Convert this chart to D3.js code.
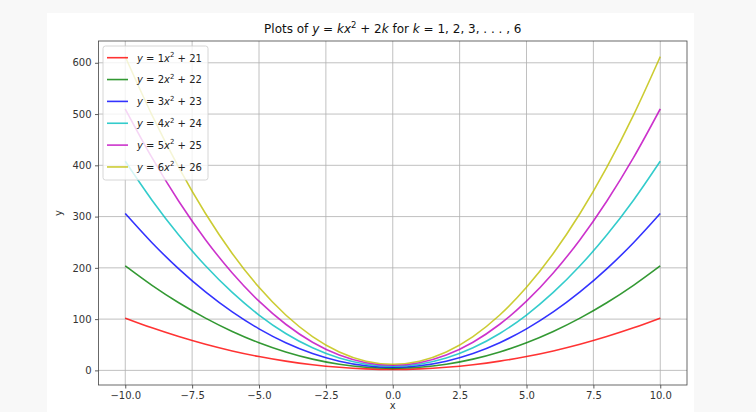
<!DOCTYPE html>
<html><head><meta charset="utf-8">
<script src="https://cdn.jsdelivr.net/npm/d3@7"></script>
<style>
body{margin:0;background:#f8f8f8;}
svg{display:block;font-family:"DejaVu Sans",sans-serif;}
</style>
</head><body>
<svg id="chart" width="756" height="412"></svg>
<script>
// ---- data ----
const xValues = [-10,-9,-8,-7,-6,-5,-4,-3,-2,-1,0,1,2,3,4,5,6,7,8,9,10];
const yK1 = [102,83,66,51,38,27,18,11,6,3,2,3,6,11,18,27,38,51,66,83,102];
const yK2 = [204,166,132,102,76,54,36,22,12,6,4,6,12,22,36,54,76,102,132,166,204];
const yK3 = [306,249,198,153,114,81,54,33,18,9,6,9,18,33,54,81,114,153,198,249,306];
const yK4 = [408,332,264,204,152,108,72,44,24,12,8,12,24,44,72,108,152,204,264,332,408];
const yK5 = [510,415,330,255,190,135,90,55,30,15,10,15,30,55,90,135,190,255,330,415,510];
const yK6 = [612,498,396,306,228,162,108,66,36,18,12,18,36,66,108,162,228,306,396,498,612];
const kLabels = ["1","2","3","4","5","6"];
const constLabels = ["21","22","23","24","25","26"];
const seriesColors = ["rgb(255,0,0)","rgb(0,128,0)","rgb(0,0,255)","rgb(0,191,191)","rgb(191,0,191)","rgb(191,191,0)"];
const xTicks = [-10,-7.5,-5,-2.5,0,2.5,5,7.5,10];
const yTicks = [0,100,200,300,400,500,600];
const xDomain = [-11, 11];
const yDomain = [-28.5, 642.5];

const seriesY = [yK1,yK2,yK3,yK4,yK5,yK6];

// ---- layout ----
const svg = d3.select("#chart");
const L = 98.5, R = 687, T = 41, B = 385;

svg.append("rect").attr("x",47).attr("y",13).attr("width",647).attr("height",399).attr("fill","#ffffff");

const x = d3.scaleLinear().domain(xDomain).range([L,R]);
const y = d3.scaleLinear().domain(yDomain).range([B,T]);

// grid
const grid = svg.append("g");
xTicks.forEach(t=>{
  grid.append("line").attr("x1",x(t)).attr("x2",x(t)).attr("y1",T).attr("y2",B)
    .attr("stroke","#b0b0b0").attr("stroke-width",0.8);
});
yTicks.forEach(t=>{
  grid.append("line").attr("x1",L).attr("x2",R).attr("y1",y(t)).attr("y2",y(t))
    .attr("stroke","#b0b0b0").attr("stroke-width",0.8);
});

// lines
const clip = svg.append("clipPath").attr("id","clp").append("rect")
  .attr("x",L).attr("y",T).attr("width",R-L).attr("height",B-T);
const line = d3.line().x((d,i)=>x(xValues[i])).y(d=>y(d)).curve(d3.curveMonotoneX);
const lg = svg.append("g").attr("clip-path","url(#clp)");
seriesY.forEach((s,i)=>{
  lg.append("path").attr("d",line(s)).attr("fill","none")
    .attr("stroke",seriesColors[i]).attr("stroke-opacity",0.8).attr("stroke-width",1.6);
});

// axes
const fmtX = d => d3.format(".1f")(d).replace("-","\u2212");
const xAxis = d3.axisBottom(x).tickValues(xTicks).tickFormat(fmtX).tickSizeOuter(0).tickSize(3.5).tickPadding(3.5);
const yAxis = d3.axisLeft(y).tickValues(yTicks).tickFormat(d3.format("d")).tickSizeOuter(0).tickSize(3.5).tickPadding(3.5);
const gx = svg.append("g").attr("transform",`translate(0,${B})`).call(xAxis);
const gy = svg.append("g").attr("transform",`translate(${L},0)`).call(yAxis);
[gx,gy].forEach(g=>{
  g.select(".domain").remove();
  g.selectAll(".tick line").attr("stroke","#333").attr("stroke-width",0.8);
  g.selectAll(".tick text").attr("fill","#333").attr("font-size",10).attr("font-family","DejaVu Sans");
});

// frame
svg.append("rect").attr("x",L).attr("y",T).attr("width",R-L).attr("height",B-T)
  .attr("fill","none").attr("stroke","#444").attr("stroke-width",0.8);

// axis labels
svg.append("text").attr("x",(L+R)/2).attr("y",409).attr("text-anchor","middle")
  .attr("font-size",10).attr("fill","#333").text("x");
svg.append("text").attr("transform",`translate(62,${(T+B)/2}) rotate(-90)`).attr("text-anchor","middle")
  .attr("font-size",10).attr("fill","#333").text("y");

// title
const title = svg.append("text").attr("x",(L+R)/2).attr("y",33).attr("text-anchor","middle")
  .attr("font-size",12).attr("fill","#111");
title.append("tspan").text("Plots of ");
title.append("tspan").attr("font-style","italic").text("y");
title.append("tspan").text(" = ");
title.append("tspan").attr("font-style","italic").text("kx");
title.append("tspan").attr("dy",-5).attr("font-size",8.5).text("2");
title.append("tspan").attr("dy",5).text(" + 2");
title.append("tspan").attr("font-style","italic").text("k");
title.append("tspan").text(" for ");
title.append("tspan").attr("font-style","italic").text("k");
title.append("tspan").text(" = 1, 2, 3, . . . , 6");

// legend
const leg = svg.append("g");
leg.append("rect").attr("x",103).attr("y",46).attr("width",105).attr("height",134)
  .attr("rx",2.5).attr("fill","#ffffff").attr("fill-opacity",0.8).attr("stroke","#cccccc").attr("stroke-width",0.8);
kLabels.forEach((k,i)=>{
  const cy = 57.7 + i*21.85;
  leg.append("line").attr("x1",107).attr("x2",128).attr("y1",cy).attr("y2",cy)
    .attr("stroke",seriesColors[i]).attr("stroke-opacity",0.8).attr("stroke-width",1.6);
  const t = leg.append("text").attr("x",137).attr("y",cy+3.8).attr("font-size",10).attr("fill","#222");
  t.append("tspan").attr("font-style","italic").text("y");
  t.append("tspan").text(" = " + k);
  t.append("tspan").attr("font-style","italic").text("x");
  t.append("tspan").attr("dy",-4.5).attr("font-size",7).text("2");
  t.append("tspan").attr("dy",4.5).text(" + " + constLabels[i]);
});
</script>
</body></html>
